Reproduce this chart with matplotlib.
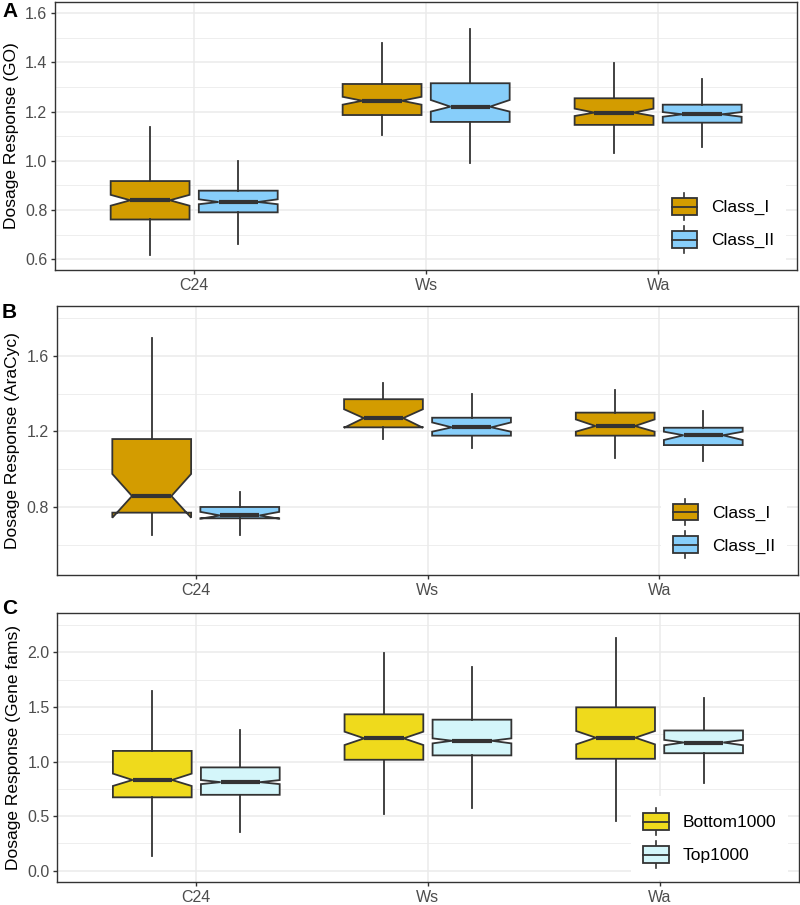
import matplotlib
matplotlib.use("Agg")
import matplotlib.pyplot as plt
from matplotlib.patches import Patch, Rectangle
from matplotlib.lines import Line2D
from matplotlib.legend_handler import HandlerBase
from matplotlib.ticker import MultipleLocator

plt.rcParams['font.family'] = ['Liberation Sans', 'DejaVu Sans']

strains = ['C24', 'Ws', 'Wa']

# each row: whisker low, q1, notch low, median, notch high, q3, whisker high
go_class1 = [[0.618, 0.762, 0.818, 0.840, 0.862, 0.918, 1.139],
             [1.104, 1.186, 1.228, 1.244, 1.260, 1.312, 1.477],
             [1.033, 1.146, 1.182, 1.196, 1.212, 1.254, 1.396]]
go_class2 = [[0.662, 0.791, 0.824, 0.833, 0.844, 0.879, 1.000],
             [0.990, 1.158, 1.200, 1.220, 1.247, 1.315, 1.534],
             [1.058, 1.155, 1.179, 1.189, 1.198, 1.228, 1.332]]

ara_class1 = [[0.652, 0.770, 0.743, 0.858, 0.975, 1.160, 1.697],
              [1.160, 1.222, 1.220, 1.271, 1.318, 1.371, 1.459],
              [1.057, 1.178, 1.199, 1.229, 1.264, 1.300, 1.420]]
ara_class2 = [[0.652, 0.740, 0.738, 0.755, 0.774, 0.800, 0.878],
              [1.111, 1.178, 1.199, 1.222, 1.248, 1.273, 1.397],
              [1.045, 1.128, 1.155, 1.180, 1.199, 1.220, 1.309]]

fam_bottom = [[0.137, 0.672, 0.776, 0.831, 0.889, 1.097, 1.646],
              [0.516, 1.016, 1.151, 1.212, 1.273, 1.432, 1.996],
              [0.457, 1.025, 1.157, 1.218, 1.279, 1.496, 2.134]]
fam_top = [[0.359, 0.695, 0.793, 0.811, 0.830, 0.946, 1.288],
           [0.576, 1.056, 1.166, 1.190, 1.212, 1.383, 1.865],
           [0.807, 1.076, 1.149, 1.174, 1.198, 1.284, 1.586]]

EDGE = '#333333'
GRID = '#EBEBEB'


class BoxKey(HandlerBase):
    def create_artists(self, legend, orig_handle, xdescent, ydescent,
                       width, height, fontsize, trans):
        x0, y0 = -xdescent, -ydescent
        bh = height * 0.63
        by = y0 + (height - bh) / 2
        xm = x0 + width / 2
        wl = Line2D([xm, xm], [y0, y0 + height], color=EDGE, lw=1.2, transform=trans)
        box = Rectangle((x0, by), width, bh, facecolor=orig_handle.get_facecolor(),
                        edgecolor=EDGE, lw=1.3, transform=trans)
        med = Line2D([x0, x0 + width], [y0 + height / 2] * 2, color=EDGE,
                     lw=1.3, transform=trans)
        return [wl, box, med]


def stats_of(rows):
    out = []
    for r in rows:
        out.append(dict(whislo=r[0], q1=r[1], cilo=r[2], med=r[3],
                        cihi=r[4], q3=r[5], whishi=r[6], fliers=[]))
    return out


def panel(ax, g1, g2, names, colors, ylab, ylim, major, minor, legend_anchor):
    for rows, off, col in [(g1, -0.19, colors[0]), (g2, 0.19, colors[1])]:
        pos = [i + 1 + off for i in range(len(strains))]
        ax.bxp(stats_of(rows), positions=pos, widths=0.34, shownotches=True,
               showcaps=False, showfliers=False, patch_artist=True,
               boxprops=dict(facecolor=col, edgecolor=EDGE, lw=1.3),
               whiskerprops=dict(color=EDGE, lw=1.3),
               medianprops=dict(color=EDGE, lw=3.0, solid_capstyle='butt'),
               manage_ticks=False)
    ax.set_xlim(0.4, 3.6)
    ax.set_ylim(*ylim)
    ax.set_xticks([1, 2, 3])
    ax.set_xticklabels(strains)
    ax.yaxis.set_major_locator(MultipleLocator(major))
    ax.yaxis.set_minor_locator(MultipleLocator(minor))
    ax.grid(which='major', color=GRID, lw=1.1)
    ax.grid(which='minor', axis='y', color=GRID, lw=0.6)
    ax.set_axisbelow(True)
    ax.tick_params(axis='both', which='major', length=3, width=1.0, color=EDGE,
                   labelcolor='#4D4D4D', labelsize=11.5, pad=2.5)
    ax.tick_params(axis='y', which='minor', length=0)
    for s in ax.spines.values():
        s.set_color(EDGE)
        s.set_linewidth(1.0)
    ax.set_ylabel(ylab, fontsize=12.5, color='black')
    ax.yaxis.set_label_coords(-0.049, 0.5)
    handles = [Patch(facecolor=colors[0]), Patch(facecolor=colors[1])]
    leg = ax.legend(handles, names, handler_map={Patch: BoxKey()},
                    loc='lower right', bbox_to_anchor=legend_anchor,
                    fontsize=12.5, frameon=True, fancybox=False, framealpha=1,
                    edgecolor='none', facecolor='white', borderpad=0.7,
                    handlelength=1.45, handleheight=2.0, handletextpad=0.8,
                    labelspacing=0.35, borderaxespad=0)
    leg.set_zorder(5)


fig = plt.figure(figsize=(8, 9.05), dpi=100)
ax1 = fig.add_axes([55 / 800, (905 - 270) / 905, 742.3 / 800, 268.3 / 905])
ax2 = fig.add_axes([56.7 / 800, (905 - 575.3) / 905, 741.6 / 800, 269.3 / 905])
ax3 = fig.add_axes([57.3 / 800, (905 - 882.3) / 905, 741.3 / 800, 269 / 905])

panel(ax1, go_class1, go_class2, ['Class_I', 'Class_II'], ['#D39C00', '#87CEFA'],
      'Dosage Response (GO)', (0.557, 1.646), 0.2, 0.1, (0.985, 0.018))
panel(ax2, ara_class1, ara_class2, ['Class_I', 'Class_II'], ['#D39C00', '#87CEFA'],
      'Dosage Response (AraCyc)', (0.438, 1.865), 0.4, 0.2, (0.985, 0.018))
panel(ax3, fam_bottom, fam_top, ['Bottom1000', 'Top1000'], ['#EFDA1C', '#D4F6FA'],
      'Dosage Response (Gene fams)', (-0.106, 2.357), 0.5, 0.25, (0.986, 0.008))

for lab, y in [('A', 2), ('B', 303), ('C', 599)]:
    fig.text(2 / 800, 1 - y / 905, lab, fontsize=15, fontweight='bold', va='top', ha='left')

fig.savefig('out.png', dpi=100)
